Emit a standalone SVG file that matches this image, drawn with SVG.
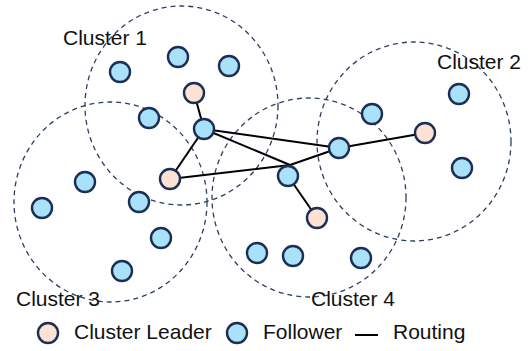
<svg xmlns="http://www.w3.org/2000/svg" width="532" height="351" viewBox="0 0 532 351">
<style>
.cl{fill:none;stroke:#2b3f62;stroke-width:1.3;stroke-dasharray:5 4}
.e{stroke:#000;stroke-width:2;fill:none;stroke-linecap:round}
.f{fill:#a9e2f8;stroke:#1b2f55;stroke-width:2.4}
.l{fill:#fde1d3;stroke:#1b2f55;stroke-width:2.4}
.t{font-family:"Liberation Sans",Arial,sans-serif;font-size:21px;fill:#111}
</style>
<rect width="532" height="351" fill="#fff"/>
<g id="clusters">
<ellipse id="cluster1" class="cl" cx="181.5" cy="105.5" rx="96.5" ry="99.5"/>
<ellipse id="cluster2" class="cl" cx="414" cy="141.5" rx="97" ry="99.5"/>
<ellipse id="cluster3" class="cl" cx="110.5" cy="202" rx="96.5" ry="100"/>
<ellipse id="cluster4" class="cl" cx="309" cy="197.5" rx="97" ry="99.5"/>
</g>
<g id="connectors">
<line class="e" x1="194" y1="93" x2="204" y2="129"/>
<line class="e" x1="204" y1="129" x2="170" y2="179"/>
<line class="e" x1="204" y1="129" x2="339" y2="148"/>
<line class="e" x1="204" y1="129" x2="290" y2="165"/>
<line class="e" x1="170" y1="179" x2="290" y2="165"/>
<line class="e" x1="290" y1="165" x2="339" y2="148"/>
<line class="e" x1="288" y1="176" x2="317" y2="218"/>
<line class="e" x1="339" y1="148" x2="425" y2="133"/>
</g>
<g id="nodes">
<circle id="n1" class="f" cx="120" cy="72" r="10"/>
<circle id="n2" class="f" cx="178" cy="57" r="10"/>
<circle id="n3" class="f" cx="229" cy="66" r="10"/>
<circle id="n4" class="l" cx="194" cy="93" r="10"/>
<circle id="n5" class="f" cx="149" cy="118" r="10"/>
<circle id="n6" class="f" cx="204" cy="129" r="10"/>
<circle id="n7" class="l" cx="170" cy="179" r="10"/>
<circle id="n8" class="f" cx="85" cy="182" r="10"/>
<circle id="n9" class="f" cx="42" cy="208" r="10"/>
<circle id="n10" class="f" cx="139" cy="202" r="10"/>
<circle id="n11" class="f" cx="161" cy="238" r="10"/>
<circle id="n12" class="f" cx="122" cy="271" r="10"/>
<circle id="n13" class="f" cx="288" cy="176" r="10"/>
<circle id="n14" class="l" cx="317" cy="218" r="10"/>
<circle id="n15" class="f" cx="257" cy="253" r="10"/>
<circle id="n16" class="f" cx="293" cy="256" r="10"/>
<circle id="n17" class="f" cx="361" cy="258" r="10"/>
<circle id="n18" class="f" cx="372" cy="114" r="10"/>
<circle id="n19" class="f" cx="339" cy="148" r="10"/>
<circle id="n20" class="l" cx="425" cy="133" r="10"/>
<circle id="n21" class="f" cx="459" cy="94" r="10"/>
<circle id="n22" class="f" cx="462" cy="168" r="10"/>
</g>
<g id="labels">
<text class="t" x="63" y="45">Cluster 1</text>
<text class="t" x="437" y="69">Cluster 2</text>
<text class="t" x="16" y="306">Cluster 3</text>
<text class="t" x="311" y="306">Cluster 4</text>
</g>
<g id="legend">
<circle class="l" cx="48" cy="333" r="10"/>
<text class="t" x="74" y="339">Cluster Leader</text>
<circle class="f" cx="237" cy="333" r="10"/>
<text class="t" x="263" y="339">Follower</text>
<line x1="355" y1="335" x2="378" y2="335" stroke="#000" stroke-width="2"/>
<text class="t" x="393" y="339">Routing</text>
</g>
</svg>
